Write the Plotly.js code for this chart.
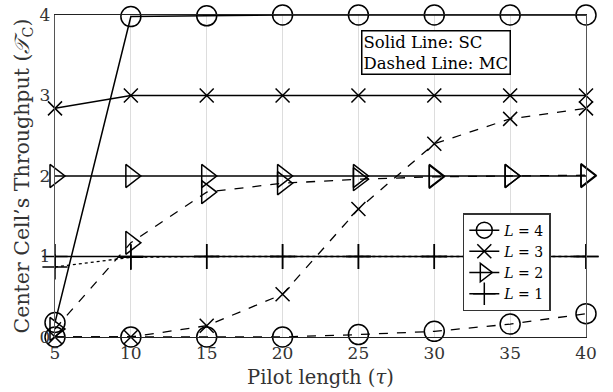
<!DOCTYPE html>
<html><head><meta charset="utf-8">
<script src="https://cdn.plot.ly/plotly-3.0.1.min.js"></script>
<style>html,body{margin:0;padding:0;background:#fff}</style>
</head><body><div id="chart" style="width:613px;height:392px"></div>
<script>
const pilot = [5, 10, 15, 20, 25, 30, 35, 40];
const scL4 = [0.18, 3.98, 3.99, 4.0, 4.0, 4.0, 4.0, 4.0];
const scL3 = [2.84, 3.0, 3.0, 3.0, 3.0, 3.0, 3.0, 3.0];
const scL2 = [2.0, 2.0, 2.0, 2.0, 2.0, 2.0, 2.0, 2.0];
const scL1 = [1.0, 1.0, 1.0, 1.0, 1.0, 1.0, 1.0, 1.0];
const mcL4 = [0.0, 0.0, 0.0, 0.0, 0.03, 0.07, 0.16, 0.29];
const mcL3 = [0.0, 0.0, 0.14, 0.53, 1.59, 2.4, 2.71, 2.84];
const mcL2 = [0.1, 1.17, 1.8, 1.91, 1.96, 1.99, 2.0, 2.01];
const mcL1 = [0.87, 0.99, 1.0, 1.0, 1.0, 1.0, 1.0, 1.0];
const legendNames = ['<i>L</i> = 4', '<i>L</i> = 3', '<i>L</i> = 2', '<i>L</i> = 1'];
const symbols = ['circle-open', 'x-thin-open', 'triangle-right-open', 'cross-thin-open'];
const sizes = [20, 14, 20, 18];

const sc = [scL4, scL3, scL2, scL1];
const mc = [mcL4, mcL3, mcL2, mcL1];
const mcDash = ['dash', 'dash', 'dash', 'dot'];
const traces = [];
for (let i = 0; i < 4; i++) {
  traces.push({x: pilot, y: mc[i], type: 'scatter', mode: 'lines+markers', showlegend: false,
    line: {color: '#000', width: 1.3, dash: mcDash[i]},
    marker: {symbol: symbols[i], size: sizes[i], color: '#000', line: {color: '#000', width: 1.5}},
    cliponaxis: false});
}
for (let i = 0; i < 4; i++) {
  traces.push({x: pilot, y: sc[i], type: 'scatter', mode: 'lines+markers', name: legendNames[i],
    line: {color: '#000', width: 1.5},
    marker: {symbol: symbols[i], size: sizes[i], color: '#000', line: {color: '#000', width: 1.5}},
    cliponaxis: false});
}
const font = '"DejaVu Serif", serif';
const layout = {
  width: 613, height: 392,
  margin: {l: 55, r: 27, t: 15, b: 55},
  paper_bgcolor: '#fff', plot_bgcolor: '#fff',
  font: {family: font, color: '#000', size: 16},
  showlegend: true,
  legend: {x: 0.768, y: 0.385, xanchor: 'left', yanchor: 'top', bgcolor: '#fff',
    bordercolor: '#333', borderwidth: 1.5, font: {family: font, size: 14, color: '#000'},
    tracegroupgap: 0, itemwidth: 30},
  xaxis: {range: [5, 40], tickvals: pilot, ticktext: pilot.map(String), showgrid: true, gridcolor: '#ddd',
    zeroline: false, showline: true, linecolor: '#222', mirror: true, linewidth: 1.2,
    ticks: '', ticklen: 0, tickfont: {family: font, size: 17, color: '#333'},
    title: {text: 'Pilot length (<i>τ</i>)', font: {family: font, size: 19.5, color: '#333'}, standoff: 8}},
  yaxis: {range: [0, 4], tickvals: [0, 1, 2, 3, 4], showgrid: false,
    zeroline: false, showline: true, linecolor: '#555', mirror: true, linewidth: 1.2,
    ticks: '', tickfont: {family: font, size: 17, color: '#333'},
    title: {text: 'Center Cell’s Throughput (<i>𝒯</i><sub>C</sub>)', font: {family: font, size: 20.5, color: '#333'}, standoff: 4}},
  annotations: [{xref: 'paper', yref: 'paper', x: 0.717, y: 0.885, xanchor: 'center', yanchor: 'middle',
    text: 'Solid Line: SC<br>Dashed Line: MC', align: 'left', showarrow: false,
    font: {family: font, size: 16.5, color: '#000'}, bgcolor: '#fff', bordercolor: '#000', borderwidth: 1.5, borderpad: 1}]
};
Plotly.newPlot('chart', traces, layout, {displayModeBar: false, staticPlot: true});
</script></body></html>
